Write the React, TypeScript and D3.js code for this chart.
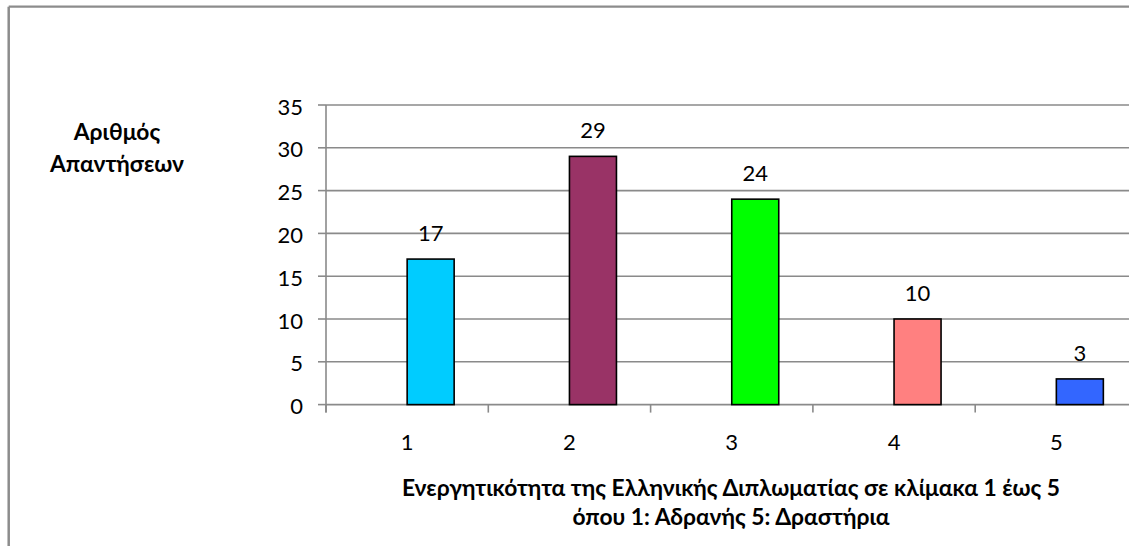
import React from "react";
import * as d3 from "d3";

const categories = ["1", "2", "3", "4", "5"];
const values = [17, 29, 24, 10, 3];
const barColors = ["#00CCFF", "#993366", "#00FF00", "#FF8080", "#3366FF"];
const yTicks = [0, 5, 10, 15, 20, 25, 30, 35];
const yTitle = ["Αριθμός", "Απαντήσεων"];
const xTitle = [
  "Ενεργητικότητα της Ελληνικής Διπλωματίας σε κλίμακα 1 έως 5",
  "όπου 1: Αδρανής 5: Δραστήρια",
];

const W = 1129;
const H = 546;
const FONT = "Lato, 'Open Sans', 'Noto Sans', sans-serif";

export default function App() {
  const x = d3.scaleBand<string>().domain(categories).range([326, 1137.5]).padding(0);
  const y = d3.scaleLinear().domain([0, 35]).range([404.6, 105]);
  const bw = x.bandwidth();
  const barW = 47;
  const gridColor = "#8a8a8a";
  const fs = 22;
  const fsb = 22.8;

  return (
    <div style={{ position: "absolute", left: 0, top: 0 }}>
      <svg width={W} height={H} style={{ display: "block", background: "#fff" }}>
        {/* outer frame */}
        <line x1={8.7} x2={8.7} y1={6.7} y2={H + 5} stroke="#8c8c8c" strokeWidth={2.5} />
        <line x1={8.7} x2={W + 5} y1={6.7} y2={6.7} stroke="#8c8c8c" strokeWidth={2.2} />

        {/* gridlines */}
        {yTicks.map((t) => (
          <line key={"g" + t} x1={326} x2={W + 5} y1={y(t)} y2={y(t)} stroke={gridColor} strokeWidth={1.6} />
        ))}
        {/* y ticks */}
        {yTicks.map((t) => (
          <line key={"yt" + t} x1={318} x2={326} y1={y(t)} y2={y(t)} stroke={gridColor} strokeWidth={1.6} />
        ))}
        {/* y axis */}
        <line x1={326} x2={326} y1={y(35)} y2={y(0) + 8} stroke={gridColor} strokeWidth={1.6} />
        {/* x ticks at category boundaries */}
        {categories.map((c) => (
          <line key={"xt" + c} x1={x(c)!} x2={x(c)!} y1={y(0)} y2={y(0) + 8} stroke={gridColor} strokeWidth={1.6} />
        ))}
        <line x1={x("5")! + bw} x2={x("5")! + bw} y1={y(0)} y2={y(0) + 8} stroke={gridColor} strokeWidth={1.6} />

        {/* y tick labels */}
        {yTicks.map((t) => (
          <text key={"yl" + t} x={303} y={y(t) + 1} textAnchor="end" dominantBaseline="central"
            fontFamily={FONT} fontSize={fs} fill="#000">{t}</text>
        ))}

        {/* bars */}
        {values.map((v, i) => {
          const cx = x(categories[i])! + bw / 2;
          return (
            <g key={"b" + i}>
              <rect x={cx} y={y(v)} width={barW} height={y(0) - y(v)} fill={barColors[i]} stroke="#000" strokeWidth={1.6} />
              <text x={cx + barW / 2} y={y(v) - 18} textAnchor="middle" fontFamily={FONT} fontSize={fs} fill="#000">{v}</text>
            </g>
          );
        })}

        {/* x tick labels */}
        {categories.map((c) => (
          <text key={"xl" + c} x={x(c)! + bw / 2} y={450} textAnchor="middle" fontFamily={FONT} fontSize={fs} fill="#000">{c}</text>
        ))}

        {/* y title */}
        {yTitle.map((s, i) => (
          <text key={"yt" + i} x={117} y={140 + i * 32} textAnchor="middle" fontFamily={FONT} fontWeight="bold" fontSize={fsb} fill="#000">{s}</text>
        ))}

        {/* x title */}
        {xTitle.map((s, i) => (
          <text key={"xtt" + i} x={731} y={496 + i * 29} textAnchor="middle" fontFamily={FONT} fontWeight="bold" fontSize={fsb} fill="#000">{s}</text>
        ))}
      </svg>
    </div>
  );
}
